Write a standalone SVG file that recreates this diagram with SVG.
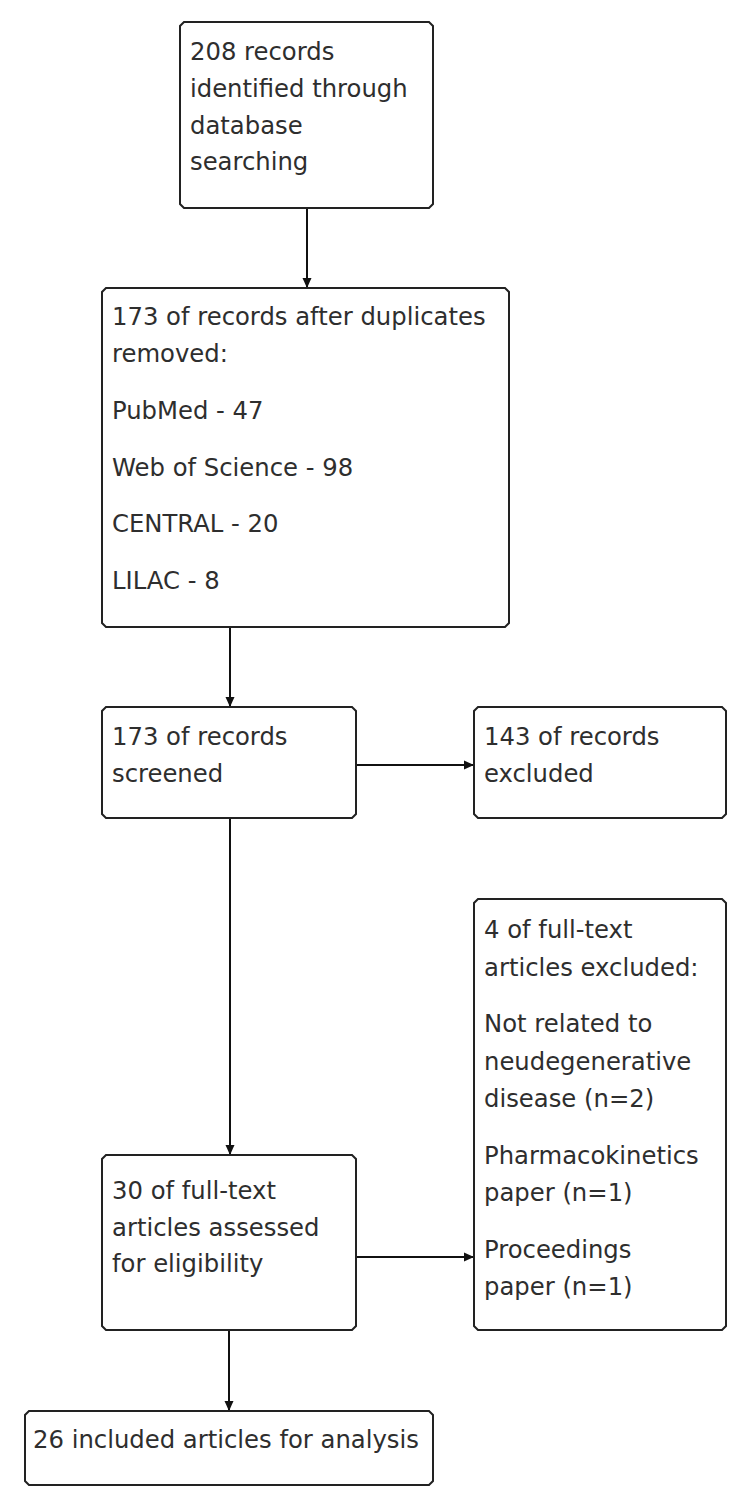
<svg xmlns="http://www.w3.org/2000/svg" width="747" height="1503" viewBox="0 0 747 1503">
<defs>
<style>
.box{fill:#fff;stroke:#222;stroke-width:2}
.t{font-family:"DejaVu Sans",Verdana,sans-serif;font-size:24.3px;fill:#2e2e2e}
.c{stroke:#111;stroke-width:2;fill:none;marker-end:url(#ah)}
</style>
<marker id="ah" markerUnits="userSpaceOnUse" markerWidth="12" markerHeight="12" refX="10" refY="6" orient="auto">
<path d="M0,1.5 L10,6 L0,10.5 z" fill="#111"/>
</marker>
</defs>
<rect width="747" height="1503" fill="#fff"/>
<g id="connectors">
<line class="c" x1="307" y1="208" x2="307" y2="288"/>
<line class="c" x1="230" y1="627" x2="230" y2="707"/>
<line class="c" x1="357" y1="765" x2="474" y2="765"/>
<line class="c" x1="230" y1="818" x2="230" y2="1155"/>
<line class="c" x1="357" y1="1257" x2="474" y2="1257"/>
<line class="c" x1="229" y1="1330" x2="229" y2="1411"/>
</g>
<g id="n1">
<path class="box" d="M184,22 H429 L433,26 V204 L429,208 H184 L180,204 V26 Z"/>
<text class="t" x="190" y="60">208 records</text>
<text class="t" x="190" y="97">identified through</text>
<text class="t" x="190" y="134">database</text>
<text class="t" x="190" y="170">searching</text>
</g>
<g id="n2">
<path class="box" d="M106,288 H505 L509,292 V623 L505,627 H106 L102,623 V292 Z"/>
<text class="t" x="112" y="325">173 of records after duplicates</text>
<text class="t" x="112" y="362">removed:</text>
<text class="t" x="112" y="419">PubMed - 47</text>
<text class="t" x="112" y="476">Web of Science - 98</text>
<text class="t" x="112" y="532">CENTRAL - 20</text>
<text class="t" x="112" y="589">LILAC - 8</text>
</g>
<g id="n3">
<path class="box" d="M106,707 H352 L356,711 V814 L352,818 H106 L102,814 V711 Z"/>
<text class="t" x="112" y="745">173 of records</text>
<text class="t" x="112" y="782">screened</text>
</g>
<g id="n4">
<path class="box" d="M478,707 H722 L726,711 V814 L722,818 H478 L474,814 V711 Z"/>
<text class="t" x="484" y="745">143 of records</text>
<text class="t" x="484" y="782">excluded</text>
</g>
<g id="n5">
<path class="box" d="M478,899 H722 L726,903 V1326 L722,1330 H478 L474,1326 V903 Z"/>
<text class="t" x="484" y="938">4 of full-text</text>
<text class="t" x="484" y="976">articles excluded:</text>
<text class="t" x="484" y="1032">Not related to</text>
<text class="t" x="484" y="1070">neudegenerative</text>
<text class="t" x="484" y="1107">disease (n=2)</text>
<text class="t" x="484" y="1164">Pharmacokinetics</text>
<text class="t" x="484" y="1201">paper (n=1)</text>
<text class="t" x="484" y="1258">Proceedings</text>
<text class="t" x="484" y="1295">paper (n=1)</text>
</g>
<g id="n6">
<path class="box" d="M106,1155 H352 L356,1159 V1326 L352,1330 H106 L102,1326 V1159 Z"/>
<text class="t" x="112" y="1199">30 of full-text</text>
<text class="t" x="112" y="1236">articles assessed</text>
<text class="t" x="112" y="1272">for eligibility</text>
</g>
<g id="n7">
<path class="box" d="M29,1411 H429 L433,1415 V1481 L429,1485 H29 L25,1481 V1415 Z"/>
<text class="t" x="33" y="1448">26 included articles for analysis</text>
</g>
</svg>
